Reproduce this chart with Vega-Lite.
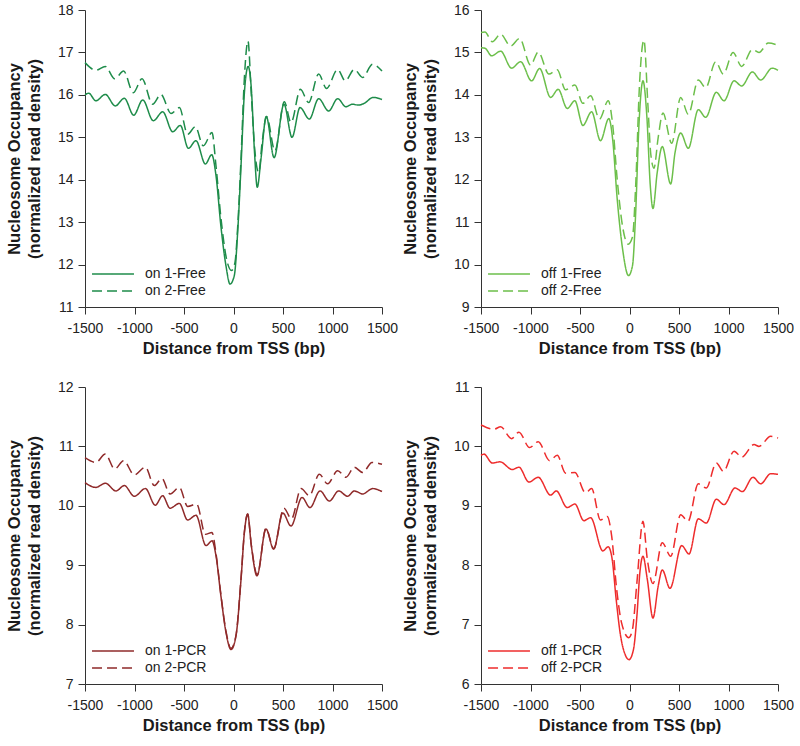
{
  "$schema": "https://vega.github.io/schema/vega-lite/v6.json",
  "background": "white",
  "padding": {"left": 6, "top": 3, "right": 0, "bottom": 0},
  "config": {
    "view": {"stroke": null},
    "font": "Liberation Sans",
    "axis": {"grid": false, "domainColor": "#333333", "tickColor": "#333333", "tickSize": 7, "labelFontSize": 14, "labelColor": "#222222", "labelPadding": 5, "labelOverlap": false, "labelFlush": false, "titleFontSize": 16.5, "titleFontWeight": "bold", "titleColor": "#1a1a1a", "labelFont": "Liberation Sans", "titleFont": "Liberation Sans", "titleLineHeight": 20},
    "axisX": {"titlePadding": 5, "labelPadding": 7},
    "axisY": {"titlePadding": 15},
    "legend": {"orient": "none", "legendX": 18, "legendY": 254, "title": null, "padding": 0, "symbolType": "M-2.33,0H2.33", "symbolSize": 324, "symbolStrokeWidth": 1.5, "labelOffset": 22, "labelFontSize": 14, "labelColor": "#222222", "labelFont": "Liberation Sans", "rowPadding": 0}
  },
  "datasets": {
    "tl": [
      {"s":"on 1-Free","x":-1500,"y":16.0},{"s":"on 1-Free","x":-1463,"y":16.04},{"s":"on 1-Free","x":-1390,"y":15.86},{"s":"on 1-Free","x":-1295,"y":16.01},{"s":"on 1-Free","x":-1194,"y":15.74},{"s":"on 1-Free","x":-1103,"y":15.92},{"s":"on 1-Free","x":-1008,"y":15.52},{"s":"on 1-Free","x":-917,"y":15.88},{"s":"on 1-Free","x":-810,"y":15.39},{"s":"on 1-Free","x":-715,"y":15.6},{"s":"on 1-Free","x":-614,"y":15.13},{"s":"on 1-Free","x":-537,"y":15.28},{"s":"on 1-Free","x":-456,"y":14.74},{"s":"on 1-Free","x":-379,"y":14.92},{"s":"on 1-Free","x":-284,"y":14.37},{"s":"on 1-Free","x":-220,"y":14.59},{"s":"on 1-Free","x":-177,"y":14.1},{"s":"on 1-Free","x":-127,"y":12.9},{"s":"on 1-Free","x":-76,"y":11.97},{"s":"on 1-Free","x":-35,"y":11.54},{"s":"on 1-Free","x":8,"y":11.74},{"s":"on 1-Free","x":42,"y":12.76},{"s":"on 1-Free","x":76,"y":14.33},{"s":"on 1-Free","x":110,"y":16.05},{"s":"on 1-Free","x":148,"y":16.67},{"s":"on 1-Free","x":180,"y":16.15},{"s":"on 1-Free","x":211,"y":14.7},{"s":"on 1-Free","x":240,"y":13.82},{"s":"on 1-Free","x":278,"y":14.5},{"s":"on 1-Free","x":331,"y":15.49},{"s":"on 1-Free","x":410,"y":14.52},{"s":"on 1-Free","x":510,"y":15.78},{"s":"on 1-Free","x":591,"y":15.0},{"s":"on 1-Free","x":672,"y":15.7},{"s":"on 1-Free","x":766,"y":15.43},{"s":"on 1-Free","x":860,"y":15.91},{"s":"on 1-Free","x":961,"y":15.62},{"s":"on 1-Free","x":1052,"y":15.91},{"s":"on 1-Free","x":1136,"y":15.72},{"s":"on 1-Free","x":1200,"y":15.78},{"s":"on 1-Free","x":1260,"y":15.76},{"s":"on 1-Free","x":1320,"y":15.8},{"s":"on 1-Free","x":1412,"y":15.94},{"s":"on 1-Free","x":1500,"y":15.89},
      {"s":"on 2-Free","x":-1500,"y":16.76},{"s":"on 2-Free","x":-1390,"y":16.58},{"s":"on 2-Free","x":-1295,"y":16.67},{"s":"on 2-Free","x":-1200,"y":16.38},{"s":"on 2-Free","x":-1110,"y":16.56},{"s":"on 2-Free","x":-1012,"y":16.05},{"s":"on 2-Free","x":-924,"y":16.38},{"s":"on 2-Free","x":-817,"y":15.78},{"s":"on 2-Free","x":-733,"y":16.01},{"s":"on 2-Free","x":-631,"y":15.56},{"s":"on 2-Free","x":-547,"y":15.7},{"s":"on 2-Free","x":-463,"y":15.07},{"s":"on 2-Free","x":-386,"y":15.25},{"s":"on 2-Free","x":-305,"y":14.8},{"s":"on 2-Free","x":-217,"y":15.11},{"s":"on 2-Free","x":-177,"y":14.33},{"s":"on 2-Free","x":-127,"y":13.1},{"s":"on 2-Free","x":-76,"y":12.2},{"s":"on 2-Free","x":-20,"y":11.86},{"s":"on 2-Free","x":15,"y":12.05},{"s":"on 2-Free","x":45,"y":13.0},{"s":"on 2-Free","x":76,"y":14.5},{"s":"on 2-Free","x":110,"y":16.4},{"s":"on 2-Free","x":146,"y":17.27},{"s":"on 2-Free","x":180,"y":16.0},{"s":"on 2-Free","x":215,"y":14.7},{"s":"on 2-Free","x":255,"y":14.17},{"s":"on 2-Free","x":290,"y":14.9},{"s":"on 2-Free","x":334,"y":15.49},{"s":"on 2-Free","x":419,"y":14.68},{"s":"on 2-Free","x":513,"y":15.84},{"s":"on 2-Free","x":581,"y":15.35},{"s":"on 2-Free","x":676,"y":16.13},{"s":"on 2-Free","x":759,"y":15.82},{"s":"on 2-Free","x":860,"y":16.49},{"s":"on 2-Free","x":940,"y":16.15},{"s":"on 2-Free","x":1052,"y":16.6},{"s":"on 2-Free","x":1129,"y":16.33},{"s":"on 2-Free","x":1220,"y":16.6},{"s":"on 2-Free","x":1304,"y":16.41},{"s":"on 2-Free","x":1405,"y":16.72},{"s":"on 2-Free","x":1500,"y":16.56}
    ],
    "tr": [
      {"s":"off 1-Free","x":-1500,"y":15.11},{"s":"off 1-Free","x":-1460,"y":15.1},{"s":"off 1-Free","x":-1392,"y":14.92},{"s":"off 1-Free","x":-1302,"y":15.03},{"s":"off 1-Free","x":-1191,"y":14.63},{"s":"off 1-Free","x":-1100,"y":14.78},{"s":"off 1-Free","x":-989,"y":14.33},{"s":"off 1-Free","x":-908,"y":14.62},{"s":"off 1-Free","x":-797,"y":13.94},{"s":"off 1-Free","x":-720,"y":14.13},{"s":"off 1-Free","x":-629,"y":13.68},{"s":"off 1-Free","x":-552,"y":13.86},{"s":"off 1-Free","x":-471,"y":13.28},{"s":"off 1-Free","x":-383,"y":13.6},{"s":"off 1-Free","x":-293,"y":12.92},{"s":"off 1-Free","x":-209,"y":13.44},{"s":"off 1-Free","x":-170,"y":12.95},{"s":"off 1-Free","x":-124,"y":11.54},{"s":"off 1-Free","x":-70,"y":10.37},{"s":"off 1-Free","x":-10,"y":9.74},{"s":"off 1-Free","x":30,"y":9.97},{"s":"off 1-Free","x":61,"y":11.15},{"s":"off 1-Free","x":95,"y":13.27},{"s":"off 1-Free","x":136,"y":14.33},{"s":"off 1-Free","x":175,"y":13.5},{"s":"off 1-Free","x":210,"y":11.86},{"s":"off 1-Free","x":237,"y":11.32},{"s":"off 1-Free","x":280,"y":12.17},{"s":"off 1-Free","x":331,"y":12.78},{"s":"off 1-Free","x":416,"y":11.9},{"s":"off 1-Free","x":460,"y":12.64},{"s":"off 1-Free","x":517,"y":13.1},{"s":"off 1-Free","x":594,"y":12.74},{"s":"off 1-Free","x":695,"y":13.65},{"s":"off 1-Free","x":770,"y":13.47},{"s":"off 1-Free","x":877,"y":14.06},{"s":"off 1-Free","x":955,"y":13.86},{"s":"off 1-Free","x":1056,"y":14.33},{"s":"off 1-Free","x":1133,"y":14.21},{"s":"off 1-Free","x":1241,"y":14.54},{"s":"off 1-Free","x":1325,"y":14.35},{"s":"off 1-Free","x":1442,"y":14.63},{"s":"off 1-Free","x":1500,"y":14.58},
      {"s":"off 2-Free","x":-1500,"y":15.47},{"s":"off 2-Free","x":-1460,"y":15.48},{"s":"off 2-Free","x":-1386,"y":15.25},{"s":"off 2-Free","x":-1302,"y":15.43},{"s":"off 2-Free","x":-1201,"y":15.15},{"s":"off 2-Free","x":-1110,"y":15.33},{"s":"off 2-Free","x":-999,"y":14.7},{"s":"off 2-Free","x":-922,"y":15.01},{"s":"off 2-Free","x":-814,"y":14.49},{"s":"off 2-Free","x":-730,"y":14.59},{"s":"off 2-Free","x":-646,"y":14.12},{"s":"off 2-Free","x":-552,"y":14.23},{"s":"off 2-Free","x":-471,"y":13.8},{"s":"off 2-Free","x":-393,"y":13.98},{"s":"off 2-Free","x":-303,"y":13.43},{"s":"off 2-Free","x":-215,"y":13.86},{"s":"off 2-Free","x":-170,"y":13.3},{"s":"off 2-Free","x":-124,"y":12.0},{"s":"off 2-Free","x":-70,"y":10.9},{"s":"off 2-Free","x":-14,"y":10.48},{"s":"off 2-Free","x":30,"y":10.65},{"s":"off 2-Free","x":65,"y":12.0},{"s":"off 2-Free","x":100,"y":14.2},{"s":"off 2-Free","x":146,"y":15.29},{"s":"off 2-Free","x":185,"y":13.8},{"s":"off 2-Free","x":215,"y":12.6},{"s":"off 2-Free","x":247,"y":12.27},{"s":"off 2-Free","x":290,"y":13.0},{"s":"off 2-Free","x":338,"y":13.57},{"s":"off 2-Free","x":426,"y":12.86},{"s":"off 2-Free","x":517,"y":13.94},{"s":"off 2-Free","x":594,"y":13.54},{"s":"off 2-Free","x":695,"y":14.35},{"s":"off 2-Free","x":770,"y":14.17},{"s":"off 2-Free","x":870,"y":14.78},{"s":"off 2-Free","x":948,"y":14.49},{"s":"off 2-Free","x":1046,"y":15.0},{"s":"off 2-Free","x":1133,"y":14.67},{"s":"off 2-Free","x":1241,"y":15.07},{"s":"off 2-Free","x":1308,"y":15.0},{"s":"off 2-Free","x":1402,"y":15.22},{"s":"off 2-Free","x":1500,"y":15.17}
    ],
    "bl": [
      {"s":"on 1-PCR","x":-1500,"y":10.39},{"s":"on 1-PCR","x":-1390,"y":10.31},{"s":"on 1-PCR","x":-1295,"y":10.38},{"s":"on 1-PCR","x":-1187,"y":10.25},{"s":"on 1-PCR","x":-1103,"y":10.34},{"s":"on 1-PCR","x":-1002,"y":10.16},{"s":"on 1-PCR","x":-890,"y":10.29},{"s":"on 1-PCR","x":-790,"y":10.01},{"s":"on 1-PCR","x":-716,"y":10.17},{"s":"on 1-PCR","x":-641,"y":9.96},{"s":"on 1-PCR","x":-547,"y":10.04},{"s":"on 1-PCR","x":-463,"y":9.76},{"s":"on 1-PCR","x":-379,"y":9.84},{"s":"on 1-PCR","x":-278,"y":9.33},{"s":"on 1-PCR","x":-217,"y":9.41},{"s":"on 1-PCR","x":-177,"y":9.16},{"s":"on 1-PCR","x":-127,"y":8.48},{"s":"on 1-PCR","x":-76,"y":7.87},{"s":"on 1-PCR","x":-25,"y":7.58},{"s":"on 1-PCR","x":25,"y":7.81},{"s":"on 1-PCR","x":76,"y":8.76},{"s":"on 1-PCR","x":110,"y":9.55},{"s":"on 1-PCR","x":143,"y":9.86},{"s":"on 1-PCR","x":180,"y":9.33},{"s":"on 1-PCR","x":237,"y":8.82},{"s":"on 1-PCR","x":328,"y":9.61},{"s":"on 1-PCR","x":406,"y":9.27},{"s":"on 1-PCR","x":497,"y":9.88},{"s":"on 1-PCR","x":581,"y":9.66},{"s":"on 1-PCR","x":692,"y":10.14},{"s":"on 1-PCR","x":773,"y":9.97},{"s":"on 1-PCR","x":874,"y":10.25},{"s":"on 1-PCR","x":968,"y":10.08},{"s":"on 1-PCR","x":1062,"y":10.25},{"s":"on 1-PCR","x":1153,"y":10.16},{"s":"on 1-PCR","x":1220,"y":10.25},{"s":"on 1-PCR","x":1305,"y":10.2},{"s":"on 1-PCR","x":1406,"y":10.29},{"s":"on 1-PCR","x":1500,"y":10.24},
      {"s":"on 2-PCR","x":-1500,"y":10.81},{"s":"on 2-PCR","x":-1390,"y":10.73},{"s":"on 2-PCR","x":-1295,"y":10.87},{"s":"on 2-PCR","x":-1200,"y":10.62},{"s":"on 2-PCR","x":-1110,"y":10.76},{"s":"on 2-PCR","x":-1002,"y":10.52},{"s":"on 2-PCR","x":-890,"y":10.65},{"s":"on 2-PCR","x":-800,"y":10.34},{"s":"on 2-PCR","x":-723,"y":10.46},{"s":"on 2-PCR","x":-641,"y":10.2},{"s":"on 2-PCR","x":-547,"y":10.31},{"s":"on 2-PCR","x":-463,"y":9.99},{"s":"on 2-PCR","x":-372,"y":10.03},{"s":"on 2-PCR","x":-284,"y":9.52},{"s":"on 2-PCR","x":-217,"y":9.55},{"s":"on 2-PCR","x":-177,"y":9.2},{"s":"on 2-PCR","x":-127,"y":8.5},{"s":"on 2-PCR","x":-76,"y":7.89},{"s":"on 2-PCR","x":-25,"y":7.6},{"s":"on 2-PCR","x":25,"y":7.82},{"s":"on 2-PCR","x":76,"y":8.78},{"s":"on 2-PCR","x":110,"y":9.56},{"s":"on 2-PCR","x":143,"y":9.86},{"s":"on 2-PCR","x":180,"y":9.34},{"s":"on 2-PCR","x":240,"y":8.84},{"s":"on 2-PCR","x":328,"y":9.62},{"s":"on 2-PCR","x":406,"y":9.28},{"s":"on 2-PCR","x":510,"y":9.96},{"s":"on 2-PCR","x":585,"y":9.78},{"s":"on 2-PCR","x":682,"y":10.29},{"s":"on 2-PCR","x":766,"y":10.17},{"s":"on 2-PCR","x":867,"y":10.53},{"s":"on 2-PCR","x":951,"y":10.37},{"s":"on 2-PCR","x":1052,"y":10.59},{"s":"on 2-PCR","x":1136,"y":10.48},{"s":"on 2-PCR","x":1220,"y":10.65},{"s":"on 2-PCR","x":1305,"y":10.56},{"s":"on 2-PCR","x":1399,"y":10.73},{"s":"on 2-PCR","x":1500,"y":10.7}
    ],
    "br": [
      {"s":"off 1-PCR","x":-1500,"y":9.85},{"s":"off 1-PCR","x":-1470,"y":9.87},{"s":"off 1-PCR","x":-1386,"y":9.72},{"s":"off 1-PCR","x":-1308,"y":9.74},{"s":"off 1-PCR","x":-1184,"y":9.61},{"s":"off 1-PCR","x":-1117,"y":9.65},{"s":"off 1-PCR","x":-1016,"y":9.4},{"s":"off 1-PCR","x":-922,"y":9.48},{"s":"off 1-PCR","x":-797,"y":9.18},{"s":"off 1-PCR","x":-740,"y":9.25},{"s":"off 1-PCR","x":-629,"y":8.97},{"s":"off 1-PCR","x":-552,"y":9.03},{"s":"off 1-PCR","x":-461,"y":8.75},{"s":"off 1-PCR","x":-393,"y":8.8},{"s":"off 1-PCR","x":-269,"y":8.24},{"s":"off 1-PCR","x":-215,"y":8.31},{"s":"off 1-PCR","x":-175,"y":8.1},{"s":"off 1-PCR","x":-135,"y":7.43},{"s":"off 1-PCR","x":-90,"y":6.81},{"s":"off 1-PCR","x":-45,"y":6.5},{"s":"off 1-PCR","x":-5,"y":6.41},{"s":"off 1-PCR","x":40,"y":6.58},{"s":"off 1-PCR","x":75,"y":7.15},{"s":"off 1-PCR","x":105,"y":7.88},{"s":"off 1-PCR","x":136,"y":8.15},{"s":"off 1-PCR","x":180,"y":7.76},{"s":"off 1-PCR","x":237,"y":7.11},{"s":"off 1-PCR","x":290,"y":7.65},{"s":"off 1-PCR","x":331,"y":7.92},{"s":"off 1-PCR","x":409,"y":7.61},{"s":"off 1-PCR","x":527,"y":8.33},{"s":"off 1-PCR","x":601,"y":8.19},{"s":"off 1-PCR","x":695,"y":8.78},{"s":"off 1-PCR","x":776,"y":8.71},{"s":"off 1-PCR","x":877,"y":9.11},{"s":"off 1-PCR","x":955,"y":9.02},{"s":"off 1-PCR","x":1066,"y":9.3},{"s":"off 1-PCR","x":1140,"y":9.24},{"s":"off 1-PCR","x":1247,"y":9.48},{"s":"off 1-PCR","x":1325,"y":9.37},{"s":"off 1-PCR","x":1426,"y":9.54},{"s":"off 1-PCR","x":1500,"y":9.53},
      {"s":"off 2-PCR","x":-1500,"y":10.36},{"s":"off 2-PCR","x":-1369,"y":10.29},{"s":"off 2-PCR","x":-1302,"y":10.33},{"s":"off 2-PCR","x":-1191,"y":10.13},{"s":"off 2-PCR","x":-1117,"y":10.24},{"s":"off 2-PCR","x":-1009,"y":9.98},{"s":"off 2-PCR","x":-922,"y":10.08},{"s":"off 2-PCR","x":-807,"y":9.76},{"s":"off 2-PCR","x":-730,"y":9.85},{"s":"off 2-PCR","x":-646,"y":9.55},{"s":"off 2-PCR","x":-552,"y":9.56},{"s":"off 2-PCR","x":-444,"y":9.22},{"s":"off 2-PCR","x":-383,"y":9.29},{"s":"off 2-PCR","x":-293,"y":8.76},{"s":"off 2-PCR","x":-225,"y":8.82},{"s":"off 2-PCR","x":-180,"y":8.49},{"s":"off 2-PCR","x":-130,"y":7.6},{"s":"off 2-PCR","x":-80,"y":7.03},{"s":"off 2-PCR","x":-7,"y":6.78},{"s":"off 2-PCR","x":30,"y":6.92},{"s":"off 2-PCR","x":75,"y":7.71},{"s":"off 2-PCR","x":136,"y":8.74},{"s":"off 2-PCR","x":180,"y":8.1},{"s":"off 2-PCR","x":237,"y":7.69},{"s":"off 2-PCR","x":331,"y":8.38},{"s":"off 2-PCR","x":416,"y":8.15},{"s":"off 2-PCR","x":517,"y":8.85},{"s":"off 2-PCR","x":591,"y":8.74},{"s":"off 2-PCR","x":695,"y":9.37},{"s":"off 2-PCR","x":776,"y":9.3},{"s":"off 2-PCR","x":877,"y":9.72},{"s":"off 2-PCR","x":948,"y":9.58},{"s":"off 2-PCR","x":1056,"y":9.92},{"s":"off 2-PCR","x":1133,"y":9.82},{"s":"off 2-PCR","x":1258,"y":10.03},{"s":"off 2-PCR","x":1308,"y":10.0},{"s":"off 2-PCR","x":1426,"y":10.17},{"s":"off 2-PCR","x":1500,"y":10.14}
    ]
  },
  "columns": 2,
  "bounds": "flush",
  "spacing": {"row": 80, "column": 99},
  "resolve": {"scale": {"strokeDash": "independent"}, "legend": {"strokeDash": "independent"}},
  "concat": [
    {
      "width": 297, "height": 297,
      "data": {"name": "tl"},
      "mark": {"type": "line", "color": "#1e8c4a", "strokeWidth": 1.5, "interpolate": "monotone"},
      "encoding": {
        "x": {"field": "x", "type": "quantitative", "scale": {"domain": [-1500, 1500], "nice": false}, "axis": {"values": [-1500, -1000, -500, 0, 500, 1000, 1500], "labelExpr": "'' + datum.value", "title": "Distance from TSS (bp)"}},
        "y": {"field": "y", "type": "quantitative", "scale": {"domain": [11, 18], "nice": false, "zero": false}, "axis": {"values": [11, 12, 13, 14, 15, 16, 17, 18], "title": ["Nucleosome Occupancy", "(normalized read density)"]}},
        "strokeDash": {"field": "s", "type": "nominal", "scale": {"domain": ["on 1-Free", "on 2-Free"], "range": [[1, 0], [10, 5]]}, "legend": {"symbolStrokeColor": "#1e8c4a"}}
      }
    },
    {
      "width": 297, "height": 297,
      "data": {"name": "tr"},
      "mark": {"type": "line", "color": "#6cbf4a", "strokeWidth": 1.5, "interpolate": "monotone"},
      "encoding": {
        "x": {"field": "x", "type": "quantitative", "scale": {"domain": [-1500, 1500], "nice": false}, "axis": {"values": [-1500, -1000, -500, 0, 500, 1000, 1500], "labelExpr": "'' + datum.value", "title": "Distance from TSS (bp)"}},
        "y": {"field": "y", "type": "quantitative", "scale": {"domain": [9, 16], "nice": false, "zero": false}, "axis": {"values": [9, 10, 11, 12, 13, 14, 15, 16], "title": ["Nucleosome Occupancy", "(normalized read density)"]}},
        "strokeDash": {"field": "s", "type": "nominal", "scale": {"domain": ["off 1-Free", "off 2-Free"], "range": [[1, 0], [10, 5]]}, "legend": {"symbolStrokeColor": "#6cbf4a"}}
      }
    },
    {
      "width": 297, "height": 297,
      "data": {"name": "bl"},
      "mark": {"type": "line", "color": "#8f2a2a", "strokeWidth": 1.5, "interpolate": "monotone"},
      "encoding": {
        "x": {"field": "x", "type": "quantitative", "scale": {"domain": [-1500, 1500], "nice": false}, "axis": {"values": [-1500, -1000, -500, 0, 500, 1000, 1500], "labelExpr": "'' + datum.value", "title": "Distance from TSS (bp)"}},
        "y": {"field": "y", "type": "quantitative", "scale": {"domain": [7, 12], "nice": false, "zero": false}, "axis": {"values": [7, 8, 9, 10, 11, 12], "title": ["Nucleosome Occupancy", "(normalized read density)"]}},
        "strokeDash": {"field": "s", "type": "nominal", "scale": {"domain": ["on 1-PCR", "on 2-PCR"], "range": [[1, 0], [10, 5]]}, "legend": {"symbolStrokeColor": "#8f2a2a"}}
      }
    },
    {
      "width": 297, "height": 297,
      "data": {"name": "br"},
      "mark": {"type": "line", "color": "#ee2c2c", "strokeWidth": 1.5, "interpolate": "monotone"},
      "encoding": {
        "x": {"field": "x", "type": "quantitative", "scale": {"domain": [-1500, 1500], "nice": false}, "axis": {"values": [-1500, -1000, -500, 0, 500, 1000, 1500], "labelExpr": "'' + datum.value", "title": "Distance from TSS (bp)"}},
        "y": {"field": "y", "type": "quantitative", "scale": {"domain": [6, 11], "nice": false, "zero": false}, "axis": {"values": [6, 7, 8, 9, 10, 11], "title": ["Nucleosome Occupancy", "(normalized read density)"]}},
        "strokeDash": {"field": "s", "type": "nominal", "scale": {"domain": ["off 1-PCR", "off 2-PCR"], "range": [[1, 0], [10, 5]]}, "legend": {"symbolStrokeColor": "#ee2c2c"}}
      }
    }
  ]
}
